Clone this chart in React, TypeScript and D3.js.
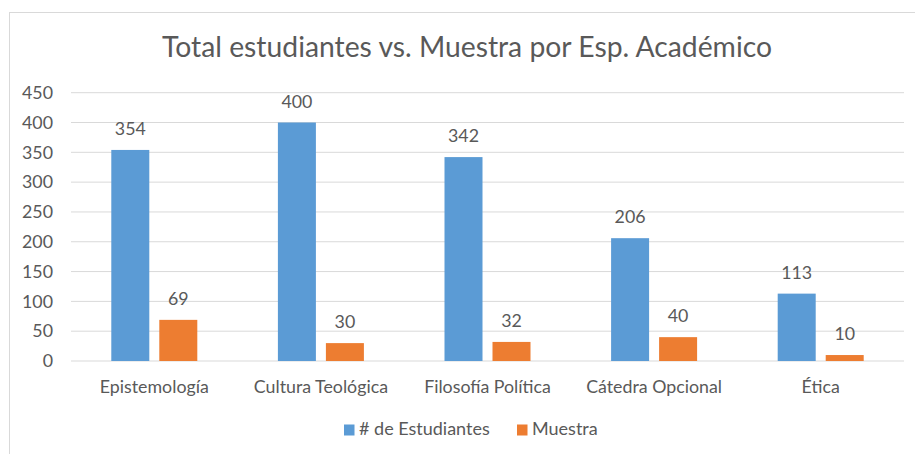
import React from 'react';
import * as d3 from 'd3';

const categories = ['Epistemología', 'Cultura Teológica', 'Filosofía Política', 'Cátedra Opcional', 'Ética'];
const estudiantes = [354, 400, 342, 206, 113];
const muestra = [69, 30, 32, 40, 10];
const seriesNames = ['# de Estudiantes', 'Muestra'];
const yTicks = [0, 50, 100, 150, 200, 250, 300, 350, 400, 450];

const colors = ['#5B9BD5', '#ED7D31'];
const textColor = '#595959';
const font = 'Lato, "Open Sans", sans-serif';

export default function App() {
  const width = 915;
  const height = 454;
  const left = 71;
  const right = 904;
  const top = 92.7;
  const bottom = 361;

  const x = d3.scaleBand<string>().domain(categories).range([left, right]);
  const y = d3.scaleLinear().domain([0, 450]).range([bottom, top]);
  const barW = 38;
  const gap = 10;
  const series = [estudiantes, muestra];

  return (
    <div style={{ position: 'absolute', left: 0, top: 0 }}>
      <svg width={width} height={height} style={{ display: 'block', background: '#fff' }}>
        <rect x={9.5} y={12.5} width={width} height={height} fill="#fff" stroke="#D9D9D9" />
        <text x={467} y={57} textAnchor="middle" fontFamily={font} fontSize={28.3} fill={textColor}>
          Total estudiantes vs. Muestra por Esp. Académico
        </text>
        {yTicks.map(t => (
          <g key={t}>
            <line x1={left} x2={right} y1={y(t)} y2={y(t)} stroke="#D9D9D9" strokeWidth={1} />
            <text x={53} y={y(t)} dy="0.35em" textAnchor="end" fontFamily={font} fontSize={17.8} fill={textColor}>
              {t}
            </text>
          </g>
        ))}
        {categories.map((c, i) => {
          const cx = (x(c) as number) + x.bandwidth() / 2;
          const start = cx - (barW * 2 + gap) / 2;
          return (
            <g key={c}>
              {series.map((s, j) => {
                const bx = start + j * (barW + gap);
                return (
                  <g key={j}>
                    <rect x={bx} y={y(s[i])} width={barW} height={bottom - y(s[i])} fill={colors[j]} />
                    <text x={bx + barW / 2} y={y(s[i]) - 15} textAnchor="middle" fontFamily={font} fontSize={17.8} fill={textColor}>
                      {s[i]}
                    </text>
                  </g>
                );
              })}
              <text x={cx} y={393} textAnchor="middle" fontFamily={font} fontSize={17.8} fill={textColor}>
                {c}
              </text>
            </g>
          );
        })}
        {seriesNames.map((n, j) => {
          const lx = j === 0 ? 344 : 517;
          return (
            <g key={n}>
              <rect x={lx} y={424.5} width={10.5} height={11} fill={colors[j]} />
              <text x={lx + 15} y={435} fontFamily={font} fontSize={18} fill={textColor}>
                {n}
              </text>
            </g>
          );
        })}
      </svg>
    </div>
  );
}
